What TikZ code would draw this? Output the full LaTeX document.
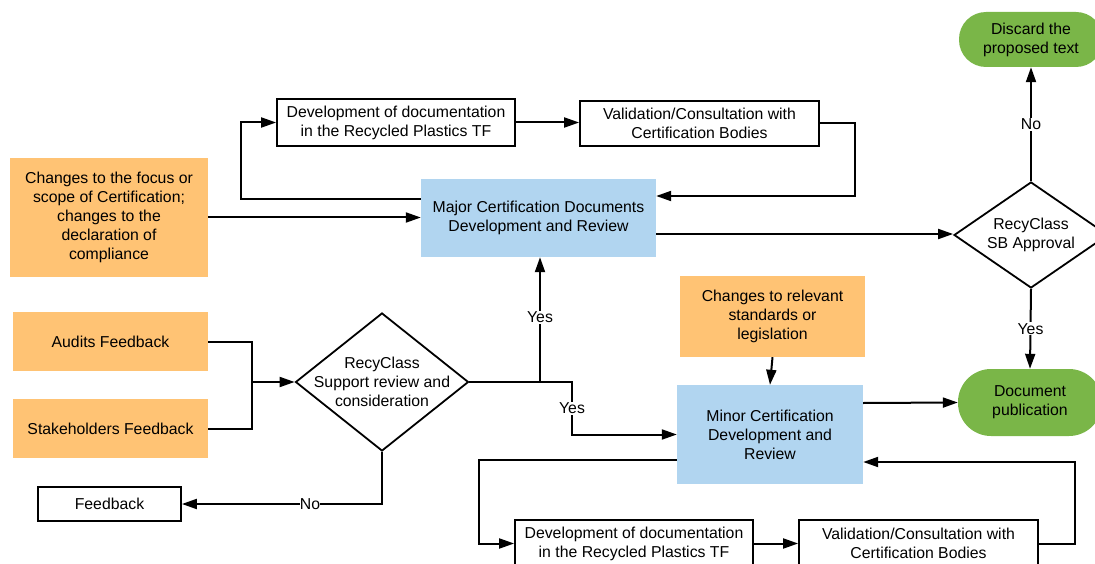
\documentclass[tikz,border=0pt]{standalone}
\usepackage{fontspec}
\setmainfont{Liberation Sans}
\usetikzlibrary{arrows.meta,shapes.geometric}
\definecolor{orangebox}{HTML}{FFC374}
\definecolor{bluebox}{HTML}{B1D5F0}
\definecolor{greenbox}{HTML}{7AB648}
\tikzset{
  base/.style={inner sep=0pt, align=center, font=\fontsize{15.8}{19}\selectfont},
  whitebox/.style={base, draw=black, line width=1.8pt, rectangle},
  orangenode/.style={base, fill=orangebox, rectangle},
  bluenode/.style={base, fill=bluebox, rectangle},
  terminal/.style={base, fill=greenbox, rectangle},
  decision/.style={base, draw=black, line width=1.8pt, diamond, inner sep=-45pt},
  arr/.style={line width=2pt, -{Triangle[length=15pt,width=10pt]}},
  conn/.style={line width=2pt},
  lbl/.style={fill=white, inner sep=1pt, font=\fontsize{15.8}{19}\selectfont},
}
\begin{document}
\begin{tikzpicture}[x=1pt,y=-1pt]
\useasboundingbox (0,0) rectangle (1095,564);
% nodes
\node[whitebox, minimum width=238pt, minimum height=47pt] (T1) at (396,122.5) {Development of documentation\\in the Recycled Plastics TF};
\node[whitebox, minimum width=239pt, minimum height=45pt] (T2) at (699.5,123.5) {Validation/Consultation with\\Certification Bodies};
\node[bluenode, minimum width=235pt, minimum height=78pt] (M) at (538.5,218) {Major Certification Documents\\Development and Review};
\node[orangenode, minimum width=198pt, minimum height=119pt] (O1) at (109,217.5) {Changes to the focus or\\scope of Certification;\\changes to the\\declaration of\\compliance};
\node[orangenode, minimum width=195pt, minimum height=59pt] (AU) at (110.5,341.5) {Audits Feedback};
\node[orangenode, minimum width=195pt, minimum height=59pt] (SH) at (110.5,428.5) {Stakeholders Feedback};
\node[decision, minimum width=173pt, minimum height=138pt] (SUP) at (382,382) {RecyClass\\Support review and\\consideration};
\node[whitebox, minimum width=143pt, minimum height=34pt] (FB) at (109.5,504) {Feedback};
\node[decision, minimum width=154pt, minimum height=106pt] (SB) at (1031,235) {RecyClass\\SB Approval};
\node[terminal, minimum width=144pt, minimum height=55pt, rounded corners=27pt] (DIS) at (1031,39.5) {Discard the\\proposed text};
\node[terminal, minimum width=144pt, minimum height=67pt, rounded corners=33pt] (DOC) at (1030,402.5) {Document\\publication};
\node[orangenode, minimum width=185pt, minimum height=81pt] (O2) at (772.5,316.5) {Changes to relevant\\standards or\\legislation};
\node[bluenode, minimum width=186pt, minimum height=99pt] (MIN) at (770,434.5) {Minor Certification\\Development and\\Review};
\node[whitebox, minimum width=238pt, minimum height=47pt] (B1) at (634,543.5) {Development of documentation\\in the Recycled Plastics TF};
\node[whitebox, minimum width=239pt, minimum height=47pt] (B2) at (918.5,543.5) {Validation/Consultation with\\Certification Bodies};
\coordinate (J1) at (252,382);
\coordinate (J2) at (540,382);
% connectors
\draw[arr] (O1.east) -- (O1.east -| M.west);
\draw[arr] ([yshift=19pt]M.west) -- ++(-180,0) |- (T1.west);
\draw[arr] (T1.east) -- (T1.east -| T2.west);
\draw[arr] (T2.east) -- ++(35,0) |- ([yshift=22pt]M.east);
\draw[arr] ([yshift=-16pt]M.east) -- ([yshift=-16pt]M.east -| SB.west);
\draw[arr] (SB.north) -- node[lbl] {No} (DIS.south);
\draw[arr] (SB.south) -- node[lbl] {Yes} (DOC.north);
\draw[conn] (AU.east) -- ++(44,0) |- (SH.east);
\draw[arr] (J1) -- (SUP.west);
\draw[conn] (SUP.east) -- (J2);
\draw[arr] (J2) -- node[lbl, pos=0.52] {Yes} (J2 |- M.south);
\draw[arr] (J2) -- ++(32,0) |- node[lbl, pos=0.25] {Yes} (MIN.west);
\draw[arr] (SUP.south) |- node[lbl, pos=0.68, inner sep=0pt] {No} (FB.east);
\draw[arr] (O2.south) -- (MIN.north);
\draw[arr] ([yshift=31.5pt]MIN.east) -- (DOC.west);
\draw[arr] ([yshift=-25.5pt]MIN.west) -- ++(-198,0) |- (B1.west);
\draw[arr] (B1.east) -- (B2.west);
\draw[arr] (B2.east) -- ++(36,0) |- ([yshift=-27.5pt]MIN.east);
\end{tikzpicture}
\end{document}
